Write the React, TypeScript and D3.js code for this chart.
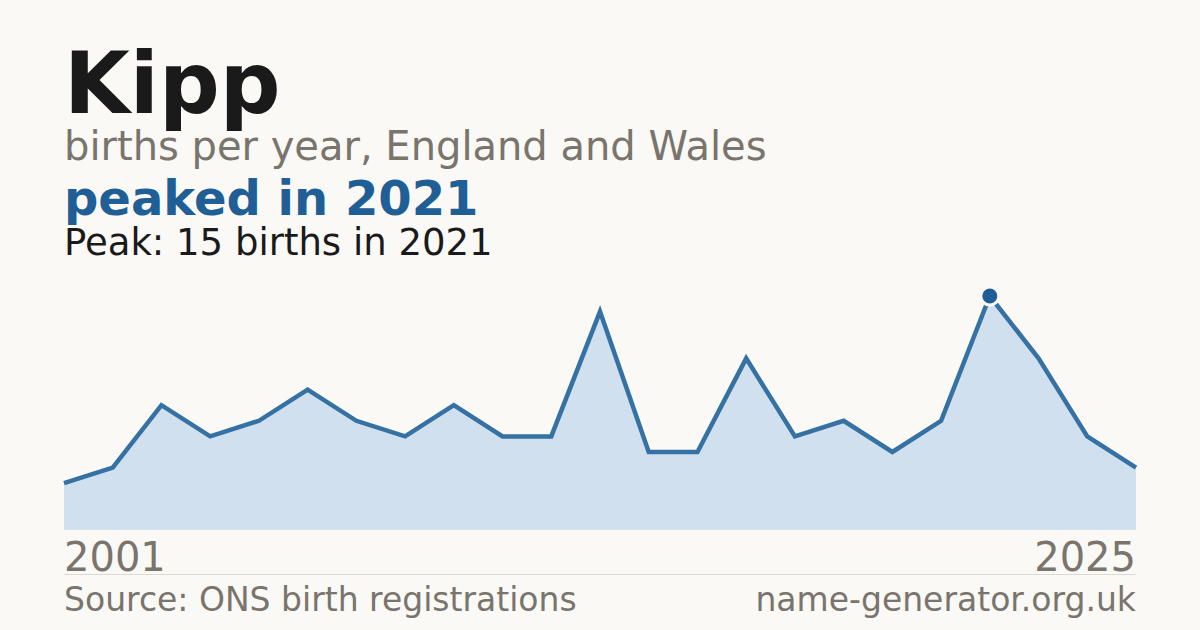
import { useEffect, useRef } from "react";
import * as d3 from "d3";

// births per year (years with fewer than 3 births are not published)
const years = [
  2001, 2002, 2003, 2004, 2005, 2006, 2007, 2008, 2009, 2010, 2011, 2013,
  2014, 2015, 2016, 2017, 2018, 2019, 2020, 2021, 2022, 2023, 2025,
];
const births = [3, 4, 8, 6, 7, 9, 7, 6, 8, 6, 6, 14, 5, 5, 11, 6, 7, 5, 7, 15, 11, 6, 4];

const W = 1200;
const H = 630;
const dims = { left: 64, right: 1136, base: 530, top: 296 };
const BLUE = "#1f5f96";
const GREY = "#79746c";
const FONT = "DejaVu Sans, sans-serif";

const App = () => {
  const svgRef = useRef(null);

  useEffect(() => {
    const svg = d3.select(svgRef.current);
    svg.selectAll("*").remove();

    svg.append("rect").attr("width", W).attr("height", H).attr("fill", "#faf9f5");

    const x = d3
      .scalePoint()
      .domain(years.map(String))
      .range([dims.left, dims.right]);
    const y = d3
      .scaleLinear()
      .domain([0, d3.max(births)])
      .range([dims.base, dims.top]);

    const data = years.map((yr, i) => ({ yr: String(yr), v: births[i] }));

    // titles
    const txt = (t, ty, size, fill, weight = "normal") =>
      svg
        .append("text")
        .attr("x", dims.left)
        .attr("y", ty)
        .attr("font-family", FONT)
        .attr("font-size", size)
        .attr("font-weight", weight)
        .attr("fill", fill)
        .text(t);

    txt("Kipp", 113, 85, "#1a1a1a", "bold");
    txt("births per year, England and Wales", 160, 40, GREY);
    txt("peaked in 2021", 215, 48, BLUE, "bold");
    txt("Peak: 15 births in 2021", 255, 37, "#1a1a1a");

    // area + line
    const area = d3
      .area()
      .x((d) => x(d.yr))
      .y0(dims.base)
      .y1((d) => y(d.v));
    svg.append("path").attr("d", area(data)).attr("fill", "#d0e0ef");

    const line = d3
      .line()
      .x((d) => x(d.yr))
      .y((d) => y(d.v));
    svg
      .append("path")
      .attr("d", line(data))
      .attr("fill", "none")
      .attr("stroke", "#3671a4")
      .attr("stroke-width", 4.5)
      .attr("stroke-linejoin", "miter");

    // peak marker
    const peak = data[d3.maxIndex(data, (d) => d.v)];
    svg
      .append("circle")
      .attr("cx", x(peak.yr))
      .attr("cy", y(peak.v))
      .attr("r", 9)
      .attr("fill", BLUE)
      .attr("stroke", "#faf9f5")
      .attr("stroke-width", 3);

    // x labels, first and last year
    svg
      .append("text")
      .attr("x", dims.left)
      .attr("y", 571)
      .attr("font-family", FONT)
      .attr("font-size", 40)
      .attr("fill", GREY)
      .text(years[0]);
    svg
      .append("text")
      .attr("x", dims.right)
      .attr("y", 571)
      .attr("text-anchor", "end")
      .attr("font-family", FONT)
      .attr("font-size", 40)
      .attr("fill", GREY)
      .text(years[years.length - 1]);

    // footer
    svg
      .append("line")
      .attr("x1", dims.left)
      .attr("x2", dims.right)
      .attr("y1", 574.5)
      .attr("y2", 574.5)
      .attr("stroke", "#dcd9d2")
      .attr("stroke-width", 1);
    svg
      .append("text")
      .attr("x", dims.left)
      .attr("y", 611)
      .attr("font-family", FONT)
      .attr("font-size", 33)
      .attr("fill", GREY)
      .text("Source: ONS birth registrations");
    svg
      .append("text")
      .attr("x", dims.right)
      .attr("y", 611)
      .attr("text-anchor", "end")
      .attr("font-family", FONT)
      .attr("font-size", 33)
      .attr("fill", GREY)
      .text("name-generator.org.uk");
  }, []);

  return (
    <svg
      ref={svgRef}
      width={W}
      height={H}
      style={{ position: "absolute", left: 0, top: 0, display: "block" }}
    ></svg>
  );
};

export default App;
